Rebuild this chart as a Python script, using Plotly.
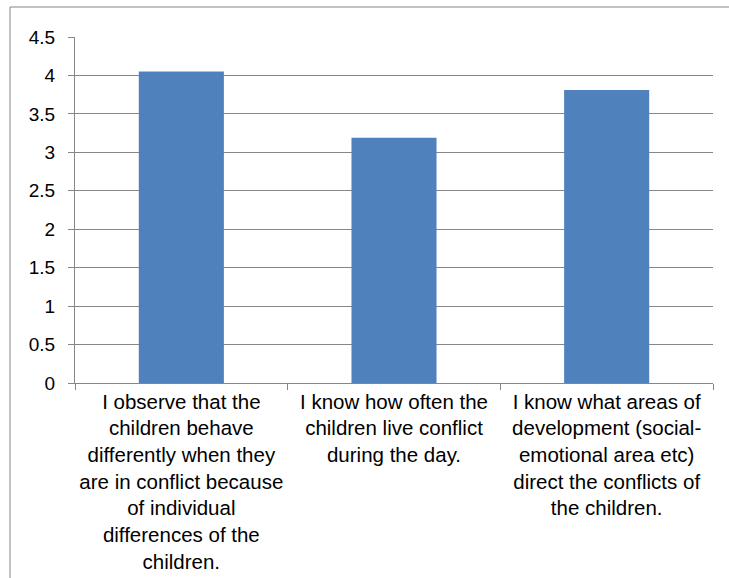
import plotly.graph_objects as go

categories = [
    "I observe that the<br>children behave<br>differently when they<br>are in conflict because<br>of individual<br>differences of the<br>children.",
    "I know how often the<br>children live conflict<br>during the day.",
    "I know what areas of<br>development (social-<br>emotional area etc)<br>direct the conflicts of<br>the children.",
]
values = [4.05, 3.19, 3.81]
y_ticks = [0, 0.5, 1, 1.5, 2, 2.5, 3, 3.5, 4, 4.5]
y_tick_labels = ["0", "0.5", "1", "1.5", "2", "2.5", "3", "3.5", "4", "4.5"]

W, H = 729, 578
ML, MR, MT, MB = 75, 16, 37, 195
pw, ph = W - ML - MR, H - MT - MB
axis_gray = "#868686"

fig = go.Figure(
    go.Bar(
        x=categories,
        y=values,
        marker=dict(color="#4F81BD", line=dict(width=0)),
        width=0.4,
    )
)

# outer chart frame (left and top edges visible, right/bottom run off the page)
fx0 = (10 - ML) / pw
fy0 = 1 + (MT - 7) / ph
fig.add_shape(type="line", xref="paper", yref="paper",
              x0=fx0, x1=fx0, y0=-1, y1=fy0,
              line=dict(color=axis_gray, width=1))
fig.add_shape(type="line", xref="paper", yref="paper",
              x0=fx0, x1=1.2, y0=fy0, y1=fy0,
              line=dict(color=axis_gray, width=1))

fig.update_layout(
    width=W, height=H,
    margin=dict(l=ML, r=MR, t=MT, b=MB, pad=0, autoexpand=False),
    paper_bgcolor="white", plot_bgcolor="white",
    font=dict(family="Liberation Sans, Arial, sans-serif", size=20, color="black"),
    showlegend=False,
    bargap=0.6,
)
fig.update_xaxes(
    type="category",
    automargin=False,
    showline=True, linecolor=axis_gray, linewidth=1,
    ticks="outside", tickson="boundaries", ticklen=6, tickcolor=axis_gray,
    showgrid=False,
    tickfont=dict(size=20.5),
    tickangle=0,
)
fig.update_yaxes(
    range=[0, 4.5],
    automargin=False,
    tickvals=y_ticks, ticktext=y_tick_labels,
    showline=True, linecolor=axis_gray, linewidth=1,
    ticks="outside", ticklen=6, tickcolor=axis_gray,
    showgrid=True, gridcolor=axis_gray, gridwidth=1.2,
    zeroline=False,
    tickfont=dict(size=19),
    ticklabelstandoff=9,
)

fig.write_html("out.html")
